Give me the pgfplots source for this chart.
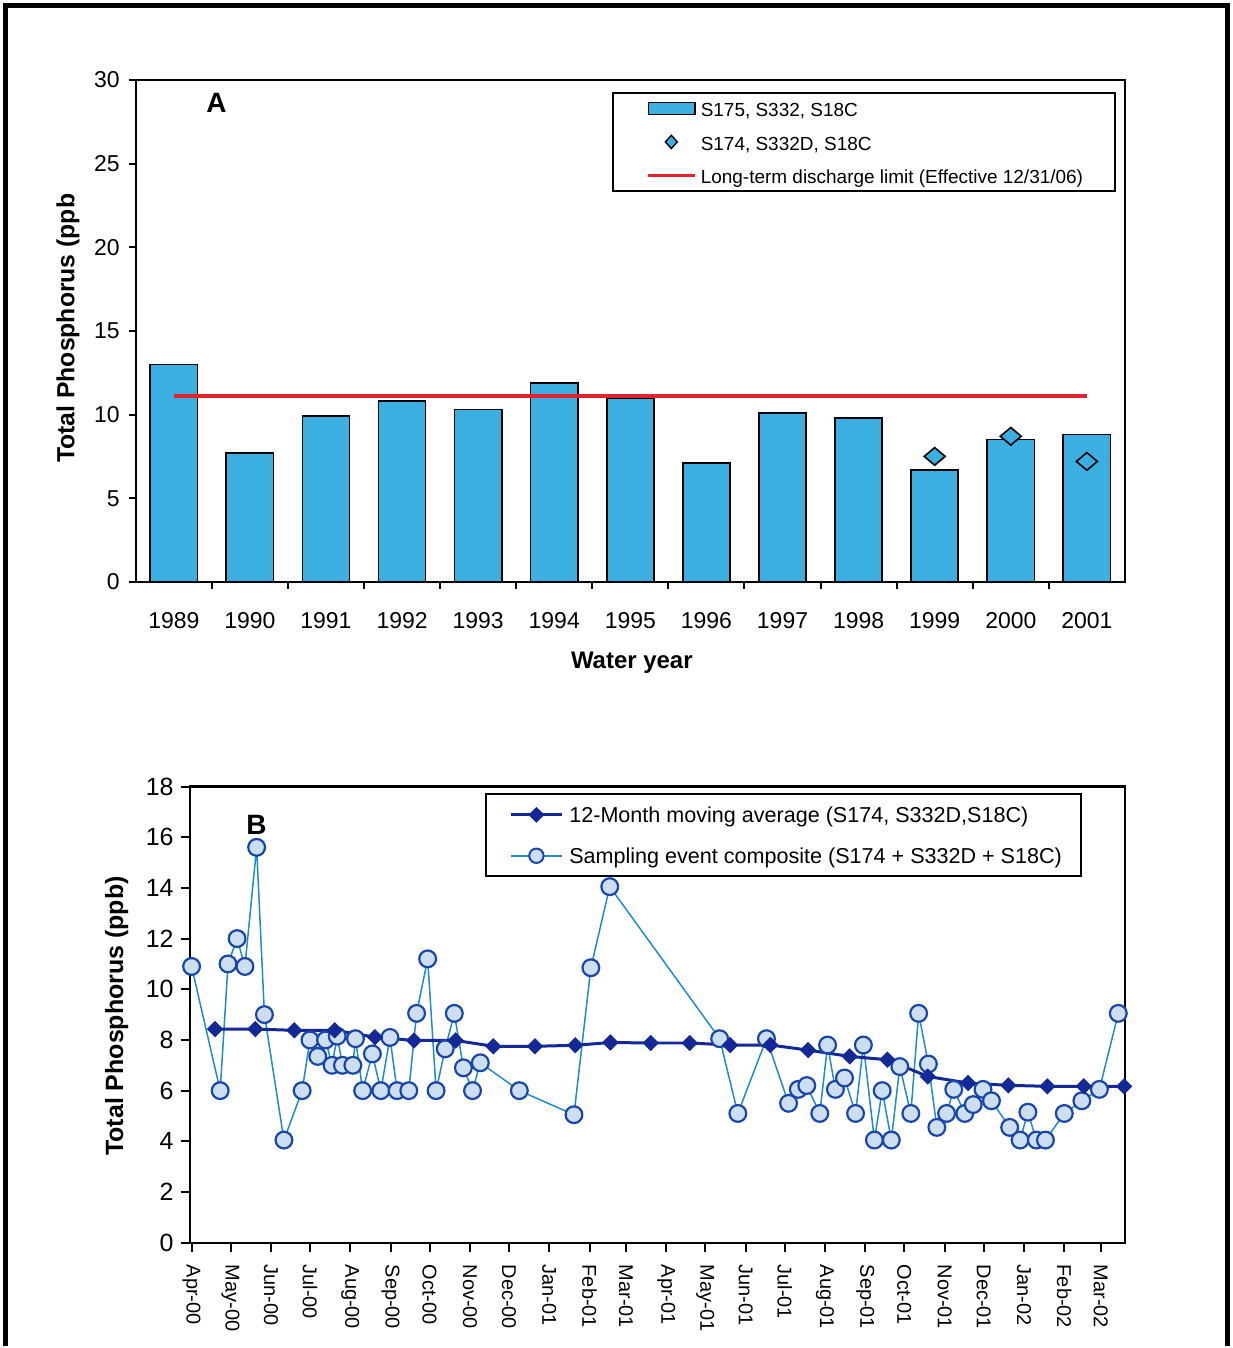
\documentclass[border=0pt]{standalone}
\usepackage{fontspec}
\setmainfont{Liberation Sans}
\usepackage{pgfplots}
\pgfplotsset{compat=1.18}
\definecolor{barblue}{RGB}{60,175,225}
\definecolor{limred}{RGB}{225,35,45}
\definecolor{dkblue}{RGB}{20,40,150}
\definecolor{ltline}{RGB}{30,140,200}
\definecolor{cfill}{RGB}{205,222,240}
\definecolor{cedge}{RGB}{25,70,170}
\begin{document}
\begin{tikzpicture}
\path (0,0) rectangle (617.5pt,674pt);
\draw[line width=2.5pt, black] (3pt,0) -- (3pt,671pt) -- (615pt,671pt) -- (615pt,0);

% ---------------- Panel A ----------------
\begin{axis}[
  at={(68pt,382.5pt)}, anchor=south west, scale only axis,
  width=495.5pt, height=251.5pt,
  xmin=-0.5, xmax=12.5, ymin=0, ymax=30,
  axis line style={line width=1pt},
  tick style={line width=1pt, black},
  tick align=outside, tick pos=left,
  major tick length=3.5pt,
  xtick={0.5,1.5,...,11.5}, xticklabels={},
  extra x ticks={0,1,2,3,4,5,6,7,8,9,10,11,12},
  extra x tick labels={1989,1990,1991,1992,1993,1994,1995,1996,1997,1998,1999,2000,2001},
  extra x tick style={major tick length=0pt, tick style={draw=none}, tick label style={yshift=-12pt}},
  ytick={0,5,...,30},
  yticklabel style={xshift=-1pt},
  tick label style={font=\fontsize{11.5}{13}\selectfont},
  /pgf/number format/assume math mode=true,
  xlabel={\textbf{Water year}},
  xlabel style={at={(axis description cs:0.5015,-0.161)}, anchor=center, font=\fontsize{12}{14}\selectfont},
  ylabel={\textbf{Total Phosphorus (ppb}},
  ylabel style={at={(axis description cs:-0.0686,0.505)}, anchor=center, rotate=0, font=\fontsize{12.4}{14}\selectfont},
  legend style={at={(rel axis cs:0.991,0.976)}, anchor=north east, draw=black, line width=1pt, fill=white,
    font=\fontsize{9.5}{11}\selectfont, inner xsep=14pt, inner ysep=1.5pt, row sep=4.3pt,
    nodes={inner xsep=2pt, text height=8.5pt, text depth=0pt}},
  legend cell align=left,
]
\addlegendimage{legend image code/.code={\path[draw=none,fill=none] (0pt,-1pt) rectangle (0.1pt,1pt); \draw[fill=barblue, draw=black, line width=0.8pt] (3.5pt,-3pt) rectangle (27pt,3pt);}}
\addlegendentry{S175, S332, S18C}
\addlegendimage{legend image code/.code={\path[draw=none,fill=none] (0pt,-1pt) rectangle (0.1pt,1pt); \draw[fill=barblue, draw=black, line width=0.7pt] (15pt,3.3pt) -- (18pt,0pt) -- (15pt,-3.3pt) -- (12pt,0pt) -- cycle; \path[draw=none,fill=none] (27pt,0pt);}}
\addlegendentry{S174, S332D, S18C}
\addlegendimage{legend image code/.code={\path[draw=none,fill=none] (0pt,-1pt) rectangle (0.1pt,1pt); \draw[limred, line width=1.5pt] (3.5pt,0pt) -- (27pt,0pt);}}
\addlegendentry{Long-term discharge limit (Effective 12/31/06)}

\addplot[ybar, bar width=0.62, fill=barblue, draw=black, line width=0.8pt, forget plot] coordinates {
 (0,13.0) (1,7.7) (2,9.9) (3,10.8) (4,10.3) (5,11.9) (6,11.0) (7,7.1) (8,10.1) (9,9.8) (10,6.7) (11,8.5) (12,8.8)};
\addplot[limred, line width=2.3pt, forget plot] coordinates {(0,11.1) (12,11.1)};
\addplot[only marks, mark=diamond*, mark size=7pt, forget plot,
  mark options={fill=barblue, draw=black, line width=0.8pt, yscale=0.63}] coordinates {
 (10,7.5) (11,8.7) (12,7.2)};
\node[font=\bfseries\fontsize{14}{16}\selectfont] at (rel axis cs:0.0817,0.954) {A};
\end{axis}

% ---------------- Panel B ----------------
\begin{axis}[
  at={(95pt,51.5pt)}, anchor=south west, scale only axis,
  width=468.5pt, height=228.5pt,
  xmin=-1.5, xmax=717.6, ymin=0, ymax=18,
  clip=false,
  axis line style={line width=1.1pt},
  tick style={line width=1pt, black},
  tick align=outside, tick pos=left,
  major tick length=4.5pt,
  xtick={0,30,61,91,122,153,183,214,244,275,306,334,365,395,426,456,487,518,548,579,609,640,671,699},
  xticklabels={Apr-00,May-00,Jun-00,Jul-00,Aug-00,Sep-00,Oct-00,Nov-00,Dec-00,Jan-01,Feb-01,Mar-01,Apr-01,May-01,Jun-01,Jul-01,Aug-01,Sep-01,Oct-01,Nov-01,Dec-01,Jan-02,Feb-02,Mar-02},
  xticklabel style={rotate=-90, anchor=west, font=\fontsize{10}{12}\selectfont, xshift=3pt},
  ytick={0,2,...,18},
  yticklabel style={font=\fontsize{12.5}{14}\selectfont},
  /pgf/number format/assume math mode=true,
  ylabel={\textbf{Total Phosphorus (ppb)}},
  ylabel style={at={(axis description cs:-0.0779,0.497)}, anchor=center, font=\fontsize{12.5}{14}\selectfont},
  legend style={at={(rel axis cs:0.954,0.985)}, anchor=north east, draw=black, line width=1pt, fill=white,
    font=\fontsize{10.8}{13}\selectfont, inner xsep=6.5pt, inner ysep=4pt, row sep=8pt,
    nodes={inner xsep=3pt, text height=8pt, text depth=0.5pt}},
  legend cell align=left,
]
\addlegendimage{legend image code/.code={\path[draw=none,fill=none] (0pt,-1pt) rectangle (0.1pt,1pt); \draw[line width=1.5pt, dkblue] (6pt,0pt) -- (31.5pt,0pt); \draw[fill=dkblue, draw=dkblue, line width=0.5pt] (18.75pt,3.6pt) -- (22.4pt,0pt) -- (18.75pt,-3.6pt) -- (15.1pt,0pt) -- cycle;}}
\addlegendentry{12-Month moving average (S174, S332D,S18C)}
\addlegendimage{legend image code/.code={\path[draw=none,fill=none] (0pt,-1pt) rectangle (0.1pt,1pt); \draw[line width=0.75pt, ltline] (6pt,0pt) -- (31.5pt,0pt); \draw[fill=cfill, draw=cedge, line width=1pt] (18.75pt,0pt) circle (3.6pt);}}
\addlegendentry{Sampling event composite (S174 + S332D + S18C)}

\addplot[ltline, line width=0.75pt, mark=*, mark size=4.2pt, forget plot,
  mark options={fill=cfill, draw=cedge, line width=1.1pt}] coordinates {
(0,10.9) (22,6.0) (28,11.0) (35,12.0) (41,10.9) (50,15.6) (56,9.0) (71,4.05)
(85,6.0) (91,8.0) (97,7.35) (103,8.0) (108,7.0) (112,8.15) (116,7.0) (124,7.0)
(126,8.05) (131.5,6.0) (139,7.45) (145.5,6.0) (152.5,8.1) (158,6.0) (167,6.0)
(173,9.05) (181.5,11.2) (188,6.0) (195,7.65) (202,9.05) (209,6.9) (216,6.0)
(222,7.1) (252,6.0) (294,5.05) (307,10.85) (321.5,14.05) (406,8.05) (420,5.1)
(442,8.05) (459,5.5) (466.5,6.05) (473,6.2) (483,5.1) (489,7.8) (495,6.05)
(502,6.5) (510.5,5.1) (516.5,7.8) (525,4.05) (531,6.0) (538,4.05) (544.5,6.95)
(553,5.1) (559,9.05) (566.5,7.05) (573,4.55) (580.5,5.1) (586,6.05) (594.5,5.1)
(601,5.45) (608.5,6.05) (615,5.6) (629,4.55) (637,4.05) (643,5.15) (649.5,4.05)
(656.5,4.05) (671,5.1) (684.5,5.6) (698,6.05) (712.5,9.05)};
\addplot[dkblue, line width=1.5pt, mark=square*, mark size=2.65pt, forget plot,
  mark options={rotate=45, fill=dkblue, draw=dkblue, line width=0.5pt}] coordinates {
(18,8.43) (49,8.43) (79,8.38) (110,8.38) (141,8.11) (171,7.98) (203,7.98) (232,7.75)
(264,7.75) (295,7.79) (322,7.9) (353,7.88) (383,7.88) (414,7.8) (445,7.8) (474,7.6)
(506,7.35) (535,7.22) (566,6.56) (597,6.3) (628,6.21) (658,6.17) (686,6.17) (717,6.17)};
\node[font=\bfseries\fontsize{14}{16}\selectfont] at (rel axis cs:0.0715,0.917) {B};
\end{axis}
\end{tikzpicture}
\end{document}
